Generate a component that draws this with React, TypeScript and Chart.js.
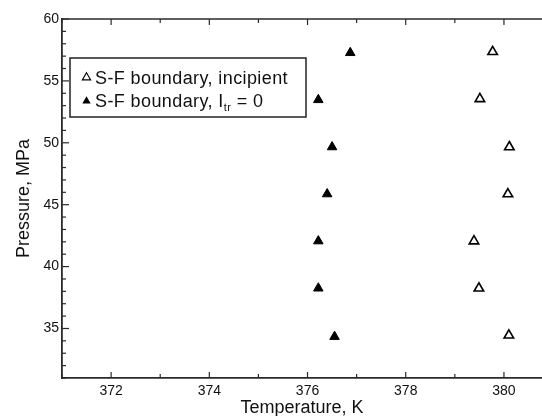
import React, { useEffect, useRef } from "react";
import { Chart, registerables } from "chart.js";

Chart.register(...registerables);

const xTicks = [372, 374, 376, 378, 380];
const yTicks = [35, 40, 45, 50, 55, 60];
const xMinor = [371, 373, 375, 377, 379];
const yMinor = [31, 32, 33, 34, 36, 37, 38, 39, 41, 42, 43, 44, 46, 47, 48, 49, 51, 52, 53, 54, 56, 57, 58, 59];

const tempIncipient = [379.77, 379.51, 380.11, 380.08, 379.39, 379.49, 380.1];
const pressIncipient = [57.35, 53.55, 49.66, 45.86, 42.06, 38.25, 34.45];
const tempItr0 = [376.87, 376.22, 376.5, 376.4, 376.22, 376.22, 376.55];
const pressItr0 = [57.27, 53.47, 49.66, 45.86, 42.06, 38.25, 34.34];

const legendLabels = ["S-F boundary, incipient", "S-F boundary, I", "tr", " = 0"];

const FONT = "'Liberation Sans', Arial, Helvetica, sans-serif";
const AXIS = "#2a2a2a";

const tickPlugin = {
  id: "customTicks",
  afterDraw(chart: any) {
    const { ctx, chartArea } = chart;
    const xs = chart.scales.x;
    const ys = chart.scales.y;
    ctx.save();
    ctx.strokeStyle = AXIS;
    ctx.lineWidth = 1.5;
    ctx.beginPath();
    ctx.moveTo(chartArea.left, chartArea.top);
    ctx.lineTo(chartArea.right, chartArea.top);
    ctx.stroke();
    ctx.lineWidth = 1.2;
    const drawX = (v: number, len: number) => {
      const px = xs.getPixelForValue(v);
      ctx.beginPath();
      ctx.moveTo(px, chartArea.bottom);
      ctx.lineTo(px, chartArea.bottom - len);
      ctx.moveTo(px, chartArea.top);
      ctx.lineTo(px, chartArea.top + len);
      ctx.stroke();
    };
    xTicks.forEach((v) => drawX(v, 6));
    xMinor.forEach((v) => drawX(v, 4));
    const drawY = (v: number, len: number) => {
      const py = ys.getPixelForValue(v);
      ctx.beginPath();
      ctx.moveTo(chartArea.left, py);
      ctx.lineTo(chartArea.left + len, py);
      ctx.stroke();
    };
    yTicks.forEach((v) => drawY(v, 7));
    yMinor.forEach((v) => drawY(v, 4));

    // legend
    const bx = 70, by = 58, bw = 236, bh = 59;
    ctx.fillStyle = "#ffffff";
    ctx.fillRect(bx, by, bw, bh);
    ctx.lineWidth = 1.5;
    ctx.strokeStyle = "#222";
    ctx.strokeRect(bx, by, bw, bh);
    const tri = (cx: number, cy: number, filled: boolean) => {
      const r = 4.8;
      ctx.beginPath();
      ctx.moveTo(cx, cy - r);
      ctx.lineTo(cx + r * 0.866, cy + r * 0.5);
      ctx.lineTo(cx - r * 0.866, cy + r * 0.5);
      ctx.closePath();
      if (filled) {
        ctx.fillStyle = "#000";
        ctx.fill();
      } else {
        ctx.lineWidth = 1.1;
        ctx.strokeStyle = "#000";
        ctx.stroke();
      }
    };
    tri(86.5, 77.5, false);
    tri(86.5, 101, true);
    ctx.fillStyle = "#111";
    ctx.textBaseline = "alphabetic";
    ctx.textAlign = "left";
    (ctx as any).letterSpacing = "0.4px";
    ctx.font = `18px ${FONT}`;
    ctx.fillText(legendLabels[0], 95, 83.5);
    let tx = 95;
    ctx.fillText(legendLabels[1], tx, 107);
    tx += ctx.measureText(legendLabels[1]).width;
    ctx.font = `11px ${FONT}`;
    ctx.fillText(legendLabels[2], tx, 110.5);
    tx += ctx.measureText(legendLabels[2]).width;
    ctx.font = `18px ${FONT}`;
    ctx.fillText(legendLabels[3], tx, 107);
    (ctx as any).letterSpacing = "0px";
    ctx.restore();
  },
};

export default function App() {
  const ref = useRef<HTMLCanvasElement | null>(null);
  useEffect(() => {
    if (!ref.current) return;
    const chart = new Chart(ref.current, {
      type: "scatter",
      data: {
        datasets: [
          {
            label: "S-F boundary, incipient",
            data: tempIncipient.map((t, i) => ({ x: t, y: pressIncipient[i] })),
            pointStyle: "triangle",
            pointRadius: 5.5,
            pointBackgroundColor: "#ffffff",
            pointBorderColor: "#000000",
            pointBorderWidth: 1.6,
          },
          {
            label: "S-F boundary, Itr = 0",
            data: tempItr0.map((t, i) => ({ x: t, y: pressItr0[i] })),
            pointStyle: "triangle",
            pointRadius: 5.5,
            pointBackgroundColor: "#000000",
            pointBorderColor: "#000000",
            pointBorderWidth: 1,
          },
        ],
      },
      options: {
        animation: false,
        responsive: true,
        maintainAspectRatio: false,
        layout: { autoPadding: false, padding: { top: 19, right: 0, left: 0, bottom: 0 } },
        plugins: { legend: { display: false }, tooltip: { enabled: false } },
        scales: {
          x: {
            type: "linear",
            min: 371,
            max: 380.775,
            afterBuildTicks: (s: any) => {
              s.ticks = xTicks.map((v) => ({ value: v }));
            },
            afterFit: (s: any) => {
              s.height = 38;
            },
            grid: { display: false, drawTicks: false },
            border: { display: true, color: AXIS, width: 1.8 },
            ticks: {
              font: { family: FONT, size: 14 },
              color: "#111",
              padding: 5,
              maxRotation: 0,
            },
            title: {
              display: true,
              text: "Temperature, K",
              font: { family: FONT, size: 18 },
              color: "#111",
              padding: { top: 0, bottom: -3 },
            },
          },
          y: {
            type: "linear",
            min: 31,
            max: 60,
            afterBuildTicks: (s: any) => {
              s.ticks = yTicks.map((v) => ({ value: v }));
            },
            afterFit: (s: any) => {
              s.width = 62;
            },
            grid: { display: false, drawTicks: false },
            border: { display: true, color: AXIS, width: 1.8 },
            ticks: {
              font: { family: FONT, size: 14 },
              color: "#111",
              padding: 3,
            },
            title: {
              display: true,
              text: "Pressure, MPa",
              font: { family: FONT, size: 18 },
              color: "#111",
              padding: { top: 13, bottom: 0 },
            },
          },
        },
      },
      plugins: [tickPlugin],
    });
    return () => chart.destroy();
  }, []);
  return (
    <div style={{ position: "fixed", left: 0, top: 0, width: 542, height: 416, background: "#fff" }}>
      <canvas ref={ref} />
    </div>
  );
}
